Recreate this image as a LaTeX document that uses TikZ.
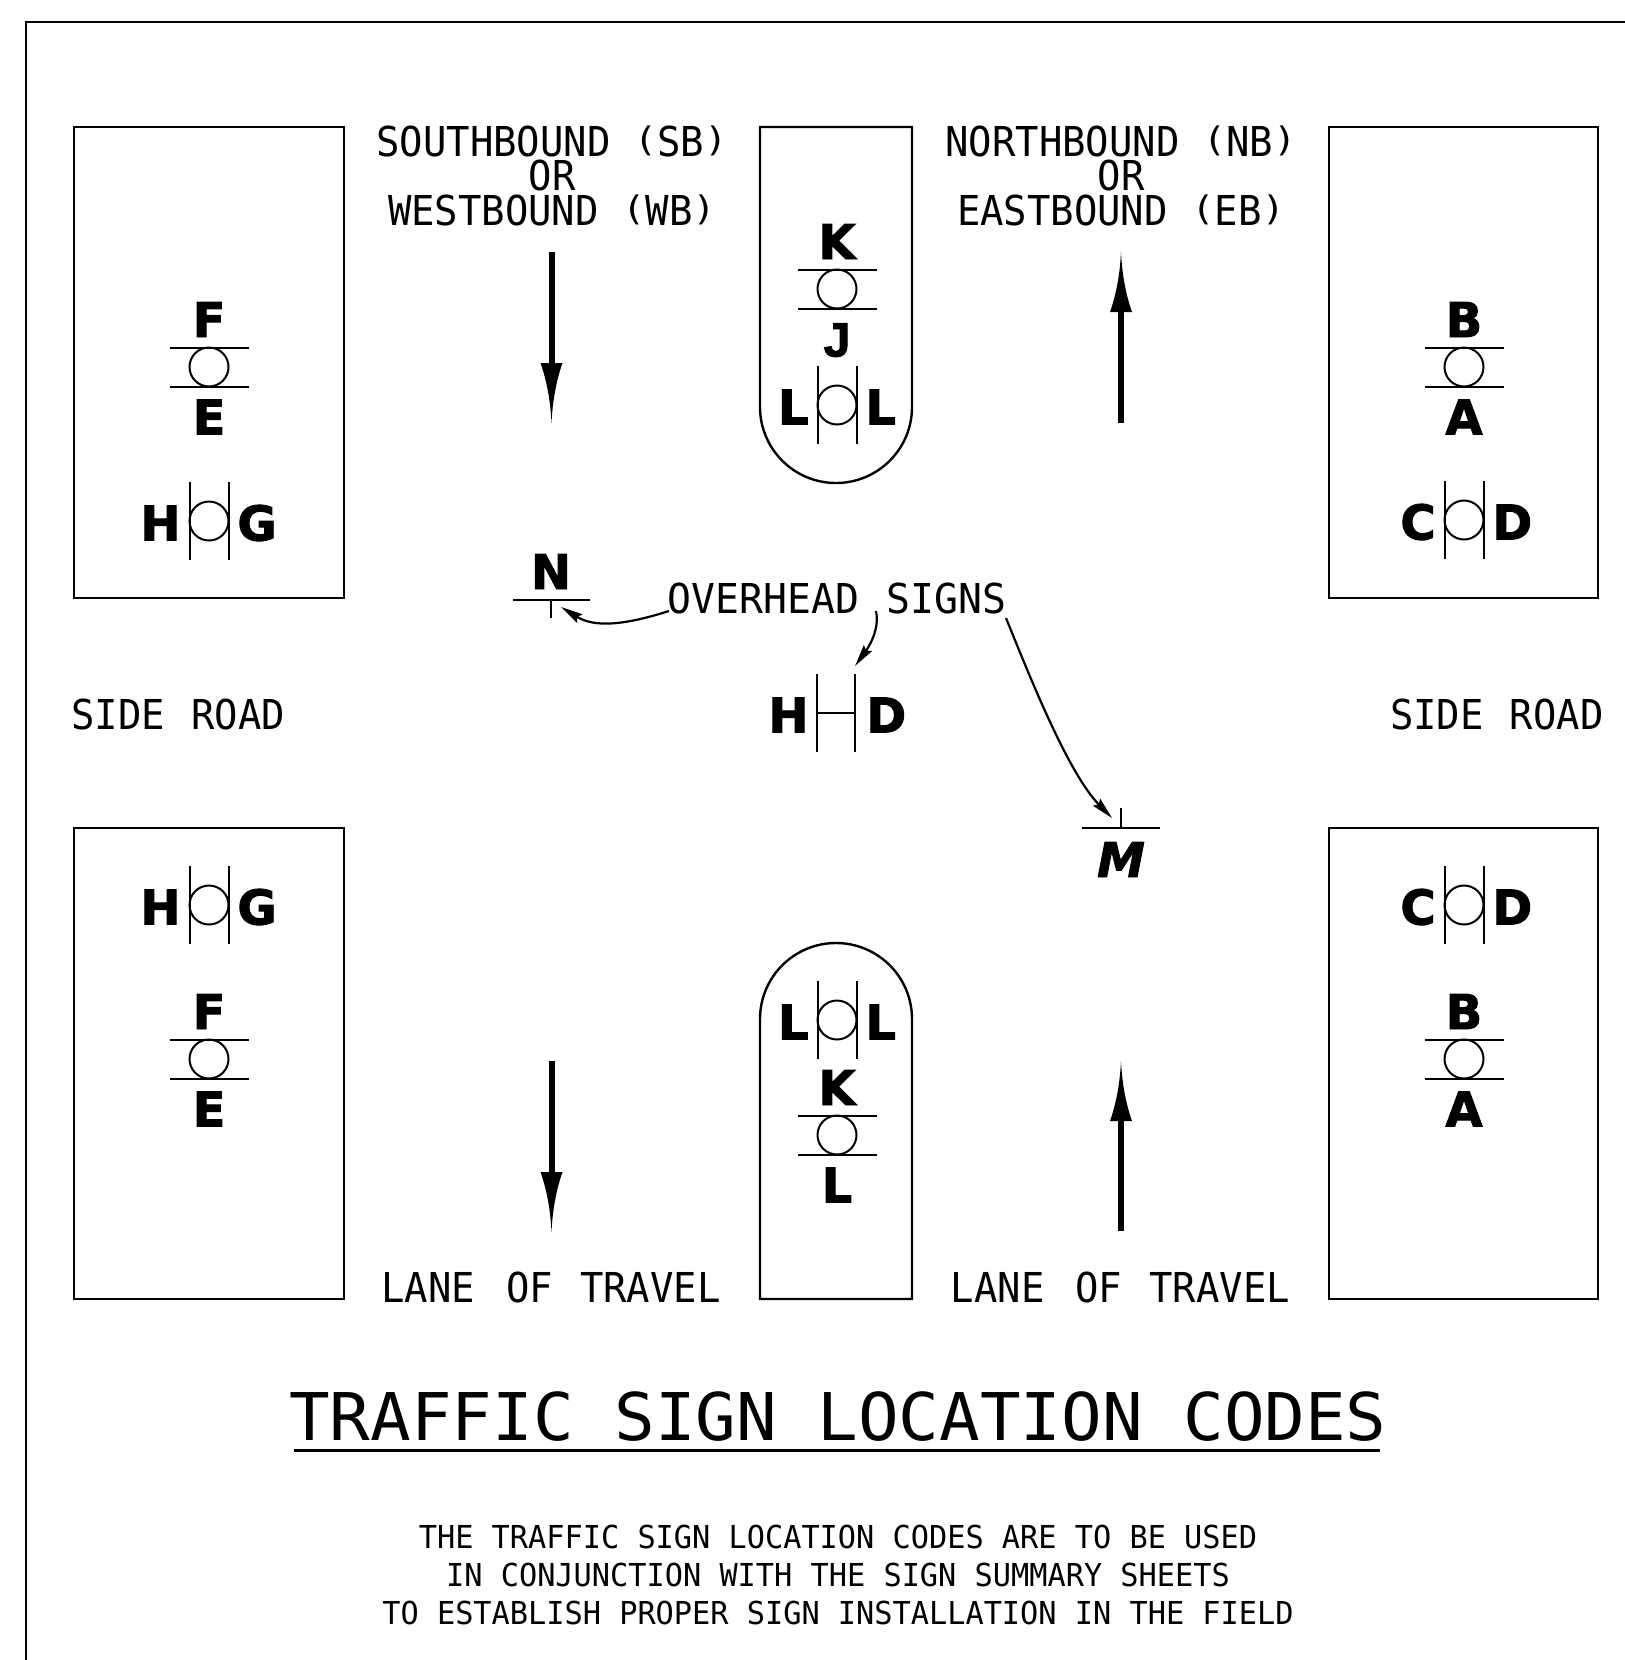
\documentclass[tikz,border=0pt]{standalone}
\usepackage{fontspec}
\usepackage{graphicx}
\usetikzlibrary{arrows.meta}
\newfontfamily\cadfont{DejaVu Sans Mono}
\newfontfamily\sgnfont{DejaVu Sans}[BoldFeatures={FakeBold=2},BoldItalicFeatures={FakeBold=2}]
\newfontfamily\jfont{Liberation Sans}[BoldFeatures={FakeBold=2}]
\tikzset{
 boxline/.style={line width=1.2pt},
 sym/.style={line width=1pt},
 sgn/.style={inner sep=0pt, font=\sgnfont\bfseries\fontsize{24}{24}\selectfont},
 cad/.style={inner sep=0pt, text height=15pt, text depth=0pt, font=\cadfont\fontsize{20.6}{24}\selectfont},
 note/.style={inner sep=0pt, text height=11.5pt, text depth=0pt, font=\cadfont\fontsize{15.8}{18}\selectfont},
 ttl/.style={inner sep=0pt, font=\cadfont\fontsize{32.9}{36}\selectfont},
 leader/.style={line width=1.1pt, -{Stealth[length=11pt,width=5pt,inset=1.5pt]}},
}
\newcommand\cb[1]{\scalebox{0.944}[1]{#1}}
\newcommand\cn[1]{\scalebox{0.958}[1]{#1}}
\newcommand\ct[1]{\scalebox{1.026}[1]{#1}}
% parentheses at cap height, as in the CAD font
\newcommand\lp{\raisebox{2.2pt}{\scalebox{1}[0.82]{(}}}
\newcommand\rp{\raisebox{2.2pt}{\scalebox{1}[0.82]{)}}}
% horizontal sign: name, cx, cy, top letter, bottom letter
\newcommand\Hsign[5]{%
 \draw[sym] ({#2-39.5},{#3-19.5}) -- ({#2+39.5},{#3-19.5});
 \draw[sym] ({#2-39.5},{#3+19.5}) -- ({#2+39.5},{#3+19.5});
 \draw[sym] (#2,#3) circle[radius=19.5];
 \node[sgn, anchor=base] (#1t) at (#2,{#3-30}) {#4};
 \node[sgn, anchor=base] (#1b) at (#2,{#3+67.5}) {#5};
}
% vertical sign: name, cx, cy, left letter, right letter
\newcommand\Vsign[5]{%
 \draw[sym] ({#2-19.5},{#3-39}) -- ({#2-19.5},{#3+39});
 \draw[sym] ({#2+19.5},{#3-39}) -- ({#2+19.5},{#3+39});
 \draw[sym] (#2,#3) circle[radius=19.5];
 \node[sgn, anchor=base east] (#1l) at ({#2-28},{#3+19.5}) {#4};
 \node[sgn, anchor=base west] (#1r) at ({#2+28},{#3+19.5}) {#5};
}
% downward arrow: x, ytop, ytip
\newcommand\Darrow[3]{%
 \draw[line width=3pt] (#1,#2) -- (#1,{#3-58});
 \fill ({#1-11},{#3-60}) .. controls ({#1-4},{#3-40}) and ({#1-1},{#3-20}) .. (#1,#3)
   .. controls ({#1+1},{#3-20}) and ({#1+4},{#3-40}) .. ({#1+11},{#3-60}) -- cycle;
}
% upward arrow: x, ytip, ybottom
\newcommand\Uarrow[3]{%
 \draw[line width=3pt] (#1,#3) -- (#1,{#2+58});
 \fill ({#1-11},{#2+60}) .. controls ({#1-4},{#2+40}) and ({#1-1},{#2+20}) .. (#1,#2)
   .. controls ({#1+1},{#2+20}) and ({#1+4},{#2+40}) .. ({#1+11},{#2+60}) -- cycle;
}
\begin{document}
\begin{tikzpicture}[x=0.5pt,y=-0.5pt]
\useasboundingbox (0,0) rectangle (1625,1660);
\fill[white] (0,0) rectangle (1625,1660);
% frame
\draw[line width=1pt] (26,1670) -- (26,22) -- (1640,22);
% corner boxes
\draw[boxline] (74,127) rectangle (344,598);
\draw[boxline] (74,828) rectangle (344,1299);
\draw[boxline] (1329,127) rectangle (1598,598);
\draw[boxline] (1329,828) rectangle (1598,1299);
% medians
\draw[boxline] (760,127) -- (760,407) arc[start angle=180, end angle=0, radius=76] -- (912,127) -- cycle;
\draw[boxline] (760,1299) -- (760,1019) arc[start angle=180, end angle=360, radius=76] -- (912,1299) -- cycle;
% signs
\Hsign{ul1}{209}{367}{F}{E}
\Vsign{ul2}{209}{521}{H}{G}
\Vsign{ll1}{209}{905}{H}{G}
\Hsign{ll2}{209}{1059}{F}{E}
\Hsign{ur1}{1464}{367}{B}{A}
\Vsign{ur2}{1464}{520}{C}{D}
\Vsign{lr1}{1464}{905}{C}{D}
\Hsign{lr2}{1464}{1059}{B}{A}
\Hsign{um1}{837}{289}{K}{\jfont J}
\Vsign{um2}{837}{405}{L}{L}
\Vsign{lm1}{837}{1020}{L}{L}
\Hsign{lm2}{837}{1135}{K}{L}
% overhead H-D
\draw[sym] (817,674) -- (817,752);
\draw[sym] (855,674) -- (855,752);
\draw[sym] (817,713) -- (855,713);
\node[sgn, anchor=base east] (ohH) at (809,732.5) {H};
\node[sgn, anchor=base west] (ohD) at (866,732.5) {D};
% N
\draw[sym] (513,600) -- (590,600);
\draw[sym] (551,600) -- (551,618);
\node[sgn, anchor=base] (sN) at (551,589) {N};
% M
\draw[sym] (1082,828) -- (1160,828);
\draw[sym] (1121,828) -- (1121,808);
\node[sgn, anchor=base, font=\sgnfont\bfseries\itshape\fontsize{24}{24}\selectfont] (sM) at (1121,877) {M};
% traffic arrows
\Darrow{551.5}{252}{423}
\Darrow{551.5}{1061}{1232}
\Uarrow{1121}{252}{423}
\Uarrow{1121}{1061}{1231}
% direction texts
\node[cad, anchor=base] (sb1) at (552,156) {\cb{SOUTHBOUND \lp SB\rp}};
\node[cad, anchor=base] (sb2) at (552,190) {\cb{OR}};
\node[cad, anchor=base] (sb3) at (552,225) {\cb{WESTBOUND \lp WB\rp}};
\node[cad, anchor=base] (nb1) at (1121,156) {\cb{NORTHBOUND \lp NB\rp}};
\node[cad, anchor=base] (nb2) at (1121,190) {\cb{OR}};
\node[cad, anchor=base] (nb3) at (1121,225) {\cb{EASTBOUND \lp EB\rp}};
\node[cad, anchor=base west] (srl) at (71,729) {\cb{SIDE\kern1.5pt{} ROAD}};
\node[cad, anchor=base east] (srr) at (1604,729) {\cb{SIDE\kern1.5pt{} ROAD}};
\node[cad, anchor=base] (lt1) at (551,1302) {\cb{LANE\kern4pt{} OF\kern2pt{} TRAVEL}};
\node[cad, anchor=base] (lt2) at (1120.5,1302) {\cb{LANE\kern4pt{} OF\kern2pt{} TRAVEL}};
\node[cad, anchor=base] (ovh) at (837,613) {\scalebox{0.965}[1]{OVERHEAD\kern2pt{} SIGNS}};
% leaders
\coordinate (lnS) at (669,611);
\coordinate (lnE) at (561,607);
\coordinate (lhS) at (876,611);
\coordinate (lhE) at (855,666);
\coordinate (lmS) at (1006,618);
\coordinate (lmE) at (1112,818);
\draw[leader] (lnS) .. controls (625,625) and (595,628) .. (lnE);
\draw[leader] (lhS) .. controls (880,630) and (868,648) .. (lhE);
\draw[leader] (lmS) .. controls (1035,690) and (1070,775) .. (lmE);
% title
\node[ttl, anchor=base] (title) at (838,1440) {\ct{TRAFFIC SIGN LOCATION CODES}};
\coordinate (ulA) at (294,1450);
\coordinate (ulB) at (1380,1450);
\draw[line width=1.5pt] (ulA) -- (ulB);
% notes
\node[note, anchor=base] (n1) at (838,1548) {\cn{THE TRAFFIC SIGN LOCATION CODES ARE TO BE USED}};
\node[note, anchor=base] (n2) at (838,1586) {\cn{IN CONJUNCTION WITH THE SIGN SUMMARY SHEETS}};
\node[note, anchor=base] (n3) at (838,1624) {\cn{TO ESTABLISH PROPER SIGN INSTALLATION IN THE FIELD}};
\end{tikzpicture}
\end{document}
